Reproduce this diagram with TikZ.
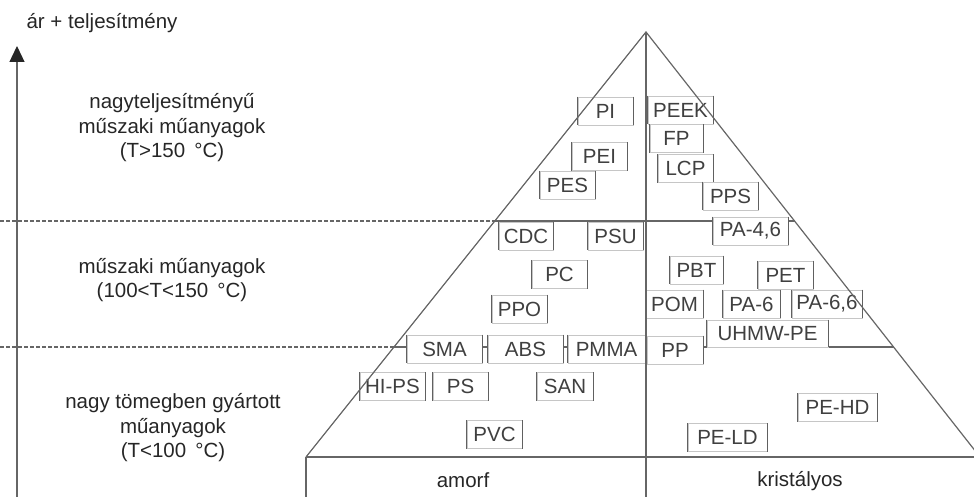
\documentclass[tikz,border=0pt]{standalone}
\usepackage{fontspec}
\setmainfont{Liberation Sans}
\usetikzlibrary{arrows.meta,calc}

\begin{document}
\begin{tikzpicture}[x=1pt, y=-1pt,
    every node/.style={align=center, font=\fontsize{20.5}{24.5}\selectfont, text=black!85},
    frame/.style={draw=gray!80!black, line width=1.2pt},
    rim/.style={draw=gray!75!black, line width=1.1pt},
    tag/.style={draw=gray!45, fill=white, line width=0.8pt, minimum height=28pt, inner sep=0pt, text=black!75,
      append after command={(\tikzlastnode.north west) edge[rim] (\tikzlastnode.south west)
                            (\tikzlastnode.north east) edge[rim] (\tikzlastnode.south east)}}]
    \useasboundingbox (0,0) rectangle (974,497);
    \clip (0,0) rectangle (974,497);

    % pyramid corners and level lines
    \coordinate (apex) at (646,32);
    \coordinate (lbase) at (306,457);
    \coordinate (rbase) at (980,457);
    \coordinate (mbase) at (646,457);
    \coordinate (ul) at ($(apex)!0.4447!(lbase)$);
    \coordinate (ur) at ($(apex)!0.4447!(rbase)$);
    \coordinate (ll) at ($(apex)!0.7412!(lbase)$);
    \coordinate (lr) at ($(apex)!0.7412!(rbase)$);

    \draw[frame, dash pattern=on 4pt off 2pt] (0,0 |- ul) -- (ul);
    \draw[frame, dash pattern=on 4pt off 2pt] (0,0 |- ll) -- (ll);
    \draw[frame] (ul) -- (ur);
    \draw[frame] (ll) -- (lr);

    % axis
    \coordinate (axbot) at (17,497);
    \coordinate (axtop) at (17,46);
    \draw[frame, -{Triangle[width=15pt, length=16pt, color=black!85, fill=black!85]}] (axbot) -- (axtop);
    \node (axlabel) at (102,23) {ár + teljesítmény};

    \node (high) at (172,128) {nagyteljesítményű\\műszaki műanyagok\\(T>150 \,°C)};
    \node (eng) at (172,280) {műszaki műanyagok\\(100<T<150 \,°C)};
    \node (mass) at (173,428) {nagy tömegben gyártott\\műanyagok\\(T<100 \,°C)};

    % amorphous side
    \node[tag, minimum width=55pt] (pi) at (605.5,111) {PI};
    \node[tag, minimum width=55pt] (pei) at (599.5,156.5) {PEI};
    \node[tag, minimum width=55pt] (pes) at (567.5,185) {PES};
    \node[tag, minimum width=54pt] (cdc) at (526,236) {CDC};
    \node[tag, minimum width=55pt] (psu) at (615.5,236) {PSU};
    \node[tag, minimum width=55pt] (pc) at (559.5,274.5) {PC};
    \node[tag, minimum width=55pt] (ppo) at (519.5,309) {PPO};
    \node[tag, minimum width=75pt] (sma) at (444.5,349) {SMA};
    \node[tag, minimum width=75pt] (abs) at (525.5,349) {ABS};
    \node[tag, minimum width=77pt] (pmma) at (606.5,349) {PMMA};
    \node[tag, minimum width=65pt] (hips) at (392.5,386.5) {HI-PS};
    \node[tag, minimum width=55pt] (ps) at (460.5,386.5) {PS};
    \node[tag, minimum width=56pt] (san) at (565,386.5) {SAN};
    \node[tag, minimum width=55pt] (pvc) at (494.5,434.5) {PVC};

    % crystalline side
    \node[tag, minimum width=65pt] (peek) at (680.5,110) {PEEK};
    \node[tag, minimum width=53pt] (fp) at (676.5,138.5) {FP};
    \node[tag, minimum width=55pt] (lcp) at (685.5,168.5) {LCP};
    \node[tag, minimum width=55pt] (pps) at (730.5,196) {PPS};
    \node[tag, minimum width=75pt] (pa46) at (750.5,231) {PA-4,6};
    \node[tag, minimum width=53pt] (pbt) at (696.5,270) {PBT};
    \node[tag, minimum width=55pt] (pet) at (785.5,275) {PET};
    \node[tag, minimum width=57pt] (pom) at (674.5,304) {POM};
    \node[tag, minimum width=57pt] (pa6) at (751.5,304) {PA-6};
    \node[tag, minimum width=70pt] (pa66) at (827,304) {PA-6,6};
    \node[tag, minimum width=121pt, minimum height=27pt] (uhmw) at (767.5,333.5) {UHMW-PE};
    \node[tag, minimum width=56pt] (pp) at (675,350) {PP};
    \node[tag, minimum width=79pt] (pehd) at (837.5,407.5) {PE-HD};
    \node[tag, minimum width=79pt] (peld) at (727.5,437.5) {PE-LD};

    % outline on top
    \draw[frame] (lbase) -- (apex) -- (rbase);
    \draw[frame] (lbase) -- (rbase);
    \draw[frame] (apex) -- (mbase) -- (646,497);
    \draw[frame] (lbase) -- (306,497);

    \node (amorf) at (463,480) {amorf};
    \node (kristaly) at (800,481) {kristályos};
\end{tikzpicture}
\end{document}
